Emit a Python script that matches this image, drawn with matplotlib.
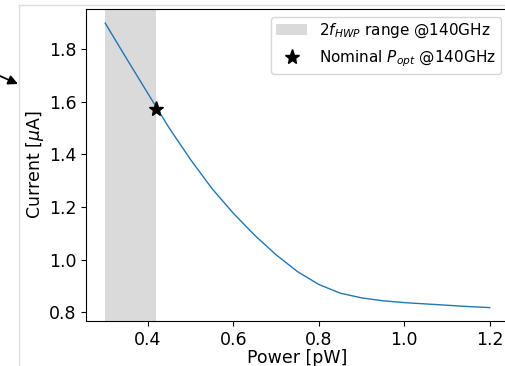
import matplotlib
matplotlib.use('Agg')
import matplotlib.pyplot as plt
from matplotlib.lines import Line2D

# power [pW] vs current [uA]
power = [0.30, 0.35, 0.40, 0.45, 0.50, 0.55, 0.60, 0.65, 0.70, 0.75,
         0.80, 0.85, 0.90, 0.95, 1.00, 1.05, 1.10, 1.15, 1.20]
current = [1.900, 1.765, 1.632, 1.500, 1.380, 1.270, 1.176, 1.092, 1.018, 0.954,
           0.905, 0.872, 0.854, 0.843, 0.836, 0.831, 0.826, 0.821, 0.817]

hwp_range = [0.30, 0.42]
p_nom = 0.42
i_nom = 1.575

fig = plt.figure(figsize=(5.06, 3.66), dpi=100)
ax = fig.add_axes([86/506, 45/366, 423/506, 312/366])

ax.axvspan(hwp_range[0], hwp_range[1], color='#dadada', lw=0, label=r'2$f_{HWP}$ range @140GHz')
ax.plot(power, current, color='#1f77b4', lw=1.0)
ax.plot(p_nom, i_nom, '*', color='black', ms=11, ls='none', label=r'Nominal $P_{opt}$ @140GHz')

ax.set_xlim(0.255, 1.245)
ax.set_ylim(0.766, 1.954)
ax.set_xticks([0.4, 0.6, 0.8, 1.0, 1.2])
ax.set_yticks([0.8, 1.0, 1.2, 1.4, 1.6, 1.8])
ax.tick_params(labelsize=12.5)
ax.set_xlabel('Power [pW]', fontsize=12.5, labelpad=0)
ax.set_ylabel(r'Current [$\mu$A]', fontsize=12.5, labelpad=2)
ax.legend(loc='upper right', fontsize=11, borderpad=0.35)

# screenshot frame and stray arrow at the left
fig.add_artist(Line2D([19/506, 19/506], [0, 1 - 5/366], color='#dddddd', lw=1))
fig.add_artist(Line2D([19/506, 1], [1 - 5/366, 1 - 5/366], color='#dddddd', lw=1))
ax.annotate('', xy=(18/506, 1 - 84/366), xytext=(0, 1 - 76/366),
            xycoords='figure fraction', textcoords='figure fraction',
            arrowprops=dict(arrowstyle='-|>', color='black', lw=1.3, mutation_scale=14,
                            shrinkA=0, shrinkB=0),
            annotation_clip=False)

fig.savefig('out.png', dpi=100)
